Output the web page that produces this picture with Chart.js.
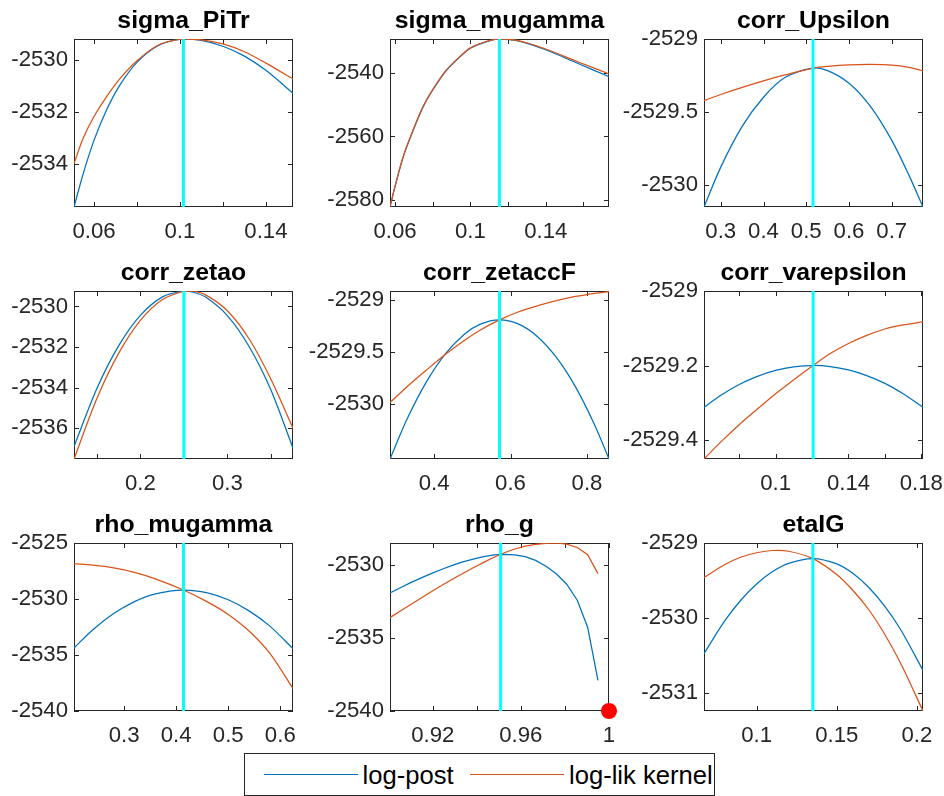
<!DOCTYPE html>
<html>
<head>
<meta charset="utf-8">
<title>Mode check plots</title>
<script src="https://cdn.jsdelivr.net/npm/chart.js@4.4.1/dist/chart.umd.min.js"></script>
<style>
  html, body { margin: 0; padding: 0; background: #ffffff; }
  #fig { position: relative; width: 944px; height: 796px; overflow: hidden; background: #ffffff;
         font-family: "Liberation Sans", Arial, Helvetica, sans-serif; }
  #fig canvas { position: absolute; }
  #legend { position: absolute; left: 244px; top: 753px; width: 471px; height: 43px;
            box-sizing: border-box; border: 1px solid #262626; background: #ffffff; }
  #legend .swatch { position: absolute; height: 0; border-top: 1.3px solid; }
  #legend .label { position: absolute; font-size: 25.6px; line-height: 25.6px; color: #000000; white-space: nowrap; }
</style>
</head>
<body>
<div id="fig"><div id="legend"></div></div>
<script>
// Profiles of the log posterior and of the log-likelihood kernel around the posterior mode,
// one panel per estimated parameter.

const paramNames = ['sigma_PiTr', 'sigma_mugamma', 'corr_Upsilon',
                    'corr_zetao', 'corr_zetaccF', 'corr_varepsilon',
                    'rho_mugamma', 'rho_g', 'etaIG'];
const seriesNames = ['log-post', 'log-lik kernel'];

const sigmaPiTrX    = [0.0507, 0.055, 0.06, 0.0659, 0.0721, 0.08, 0.09, 0.1016, 0.11, 0.12, 0.13, 0.14, 0.1526];
const sigmaPiTrPost = [-2535.67, -2534.38, -2533.10, -2531.92, -2530.96, -2530.09, -2529.44, -2529.19, -2529.24, -2529.47, -2529.85, -2530.40, -2531.28];
const sigmaPiTrLik  = [-2534.00, -2533.01, -2532.18, -2531.41, -2530.72, -2530.03, -2529.42, -2529.19, -2529.22, -2529.38, -2529.68, -2530.12, -2530.73];

const sigmaMugammaX    = [0.0573, 0.06, 0.0644, 0.0697, 0.075, 0.08, 0.0874, 0.0945, 0.10, 0.1087, 0.1154, 0.1247, 0.14, 0.1566, 0.1736];
const sigmaMugammaPost = [-2582.3, -2575.8, -2566.3, -2557.9, -2550.5, -2545.3, -2539.0, -2534.8, -2532.1, -2530.0, -2529.2, -2529.7, -2532.6, -2536.8, -2541.1];
const sigmaMugammaLik  = [-2582.2, -2575.7, -2566.2, -2557.8, -2550.4, -2545.2, -2538.9, -2534.7, -2532.0, -2529.95, -2529.2, -2529.65, -2532.35, -2536.3, -2540.2];

const corrUpsilonX    = [0.2608, 0.30, 0.35, 0.40, 0.45, 0.5157, 0.55, 0.60, 0.65, 0.70, 0.74, 0.773];
const corrUpsilonPost = [-2530.154, -2529.88, -2529.60, -2529.40, -2529.265, -2529.20, -2529.217, -2529.304, -2529.463, -2529.696, -2529.935, -2530.154];
const corrUpsilonLik  = [-2529.424, -2529.381, -2529.332, -2529.287, -2529.247, -2529.20, -2529.188, -2529.178, -2529.175, -2529.18, -2529.195, -2529.218];

const corrZetaoX    = [0.1237, 0.15, 0.175, 0.2, 0.225, 0.25, 0.26, 0.275, 0.3, 0.325, 0.35, 0.3755];
const corrZetaoPost = [-2536.90, -2534.04, -2531.94, -2530.44, -2529.54, -2529.24, -2529.29, -2529.54, -2530.45, -2531.97, -2534.10, -2536.98];
const corrZetaoLik  = [-2537.51, -2534.53, -2532.31, -2530.69, -2529.67, -2529.25, -2529.24, -2529.43, -2530.21, -2531.59, -2533.57, -2536.00];

const corrZetaccFX    = [0.2847, 0.33, 0.38, 0.43, 0.48, 0.5212, 0.5712, 0.62, 0.67, 0.72, 0.77, 0.82, 0.8576];
const corrZetaccFPost = [-2530.526, -2530.138, -2529.786, -2529.515, -2529.326, -2529.231, -2529.19, -2529.229, -2529.349, -2529.551, -2529.834, -2530.199, -2530.526];
const corrZetaccFLik  = [-2529.985, -2529.83, -2529.672, -2529.52, -2529.385, -2529.287, -2529.19, -2529.115, -2529.055, -2529.005, -2528.965, -2528.935, -2528.918];

const corrVarepsilonX    = [0.0607, 0.07, 0.08, 0.09, 0.10, 0.11, 0.1206, 0.13, 0.14, 0.15, 0.16, 0.17, 0.1809];
const corrVarepsilonPost = [-2529.312, -2529.280, -2529.251, -2529.229, -2529.213, -2529.2035, -2529.200, -2529.2027, -2529.2117, -2529.227, -2529.248, -2529.276, -2529.312];
const corrVarepsilonLik  = [-2529.451, -2529.405, -2529.359, -2529.317, -2529.276, -2529.238, -2529.200, -2529.168, -2529.141, -2529.119, -2529.102, -2529.091, -2529.083];

const rhoMugammaX    = [0.2038, 0.24, 0.28, 0.32, 0.36, 0.414, 0.46, 0.50, 0.54, 0.58, 0.6244];
const rhoMugammaPost = [-2534.37, -2532.74, -2531.30, -2530.23, -2529.54, -2529.20, -2529.45, -2530.07, -2531.06, -2532.42, -2534.43];
const rhoMugammaLik  = [-2526.85, -2526.98, -2527.22, -2527.62, -2528.20, -2529.20, -2530.26, -2531.38, -2532.86, -2534.86, -2538.00];

const rhoGX    = [0.9006, 0.9053, 0.9100, 0.9148, 0.9195, 0.9242, 0.9289, 0.9336, 0.9384, 0.9431, 0.9478,
                  0.9525, 0.9572, 0.9620, 0.9667, 0.9714, 0.9761, 0.9808, 0.9856, 0.9903, 0.9950];
const rhoGPost = [-2531.90, -2531.54, -2531.19, -2530.86, -2530.55, -2530.27, -2530.01, -2529.77, -2529.57, -2529.40, -2529.28,
                  -2529.245, -2529.28, -2529.40, -2529.66, -2530.06, -2530.58, -2531.30, -2532.40, -2534.25, -2537.90];
const rhoGLik  = [-2533.59, -2533.14, -2532.69, -2532.24, -2531.80, -2531.37, -2530.96, -2530.56, -2530.17, -2529.80, -2529.45,
                  -2529.14, -2528.88, -2528.69, -2528.56, -2528.49, -2528.47, -2528.55, -2528.78, -2529.28, -2530.57];
// upper bound of rho_g, marked at the bottom of its panel
const rhoGBoundMarker = [1, -2540];

const etaIGX    = [0.0672, 0.08, 0.09, 0.10, 0.11, 0.12, 0.1351, 0.15, 0.16, 0.17, 0.18, 0.19, 0.2038];
const etaIGPost = [-2530.475, -2530.043, -2529.767, -2529.547, -2529.381, -2529.271, -2529.208, -2529.278, -2529.404, -2529.593, -2529.845, -2530.160, -2530.698];
const etaIGLik  = [-2529.46, -2529.29, -2529.19, -2529.13, -2529.10, -2529.11, -2529.208, -2529.42, -2529.63, -2529.89, -2530.22, -2530.61, -2531.24];

// posterior mode of each parameter
const modeValues = [0.1016, 0.1154, 0.5157, 0.25, 0.5712, 0.1206, 0.414, 0.9508, 0.1351];

// axis limits
const xLimits = [[0.0507, 0.1526], [0.0573, 0.1736], [0.2608, 0.773],
                 [0.1237, 0.3755], [0.2847, 0.8576], [0.0607, 0.1809],
                 [0.2038, 0.6244], [0.9006, 1.0], [0.0672, 0.2038]];
const yLimits = [[-2535.67, -2529.19], [-2582.3, -2529.2], [-2530.154, -2529],
                 [-2537.51, -2529.24], [-2530.526, -2528.913], [-2529.451, -2529.0],
                 [-2540, -2525], [-2540, -2528.47], [-2531.24, -2529]];

// tick positions and their labels (an empty label is an unlabeled tick)
const xTickValues = [[0.06, 0.08, 0.10, 0.12, 0.14], [0.06, 0.08, 0.10, 0.12, 0.14, 0.16], [0.3, 0.4, 0.5, 0.6, 0.7],
                     [0.15, 0.2, 0.25, 0.3, 0.35], [0.4, 0.6, 0.8], [0.08, 0.10, 0.12, 0.14, 0.16, 0.18],
                     [0.3, 0.4, 0.5, 0.6], [0.92, 0.94, 0.96, 0.98, 1.0], [0.1, 0.15, 0.2]];
const xTickLabels = [['0.06', '', '0.1', '', '0.14'], ['0.06', '', '0.1', '', '0.14', ''], ['0.3', '0.4', '0.5', '0.6', '0.7'],
                     ['', '0.2', '', '0.3', ''], ['0.4', '0.6', '0.8'], ['', '0.1', '', '0.14', '', '0.18'],
                     ['0.3', '0.4', '0.5', '0.6'], ['0.92', '', '0.96', '', '1'], ['0.1', '0.15', '0.2']];
const yTickValues = [[-2534, -2532, -2530], [-2580, -2560, -2540], [-2530, -2529.5, -2529],
                     [-2536, -2534, -2532, -2530], [-2530, -2529.5, -2529], [-2529.4, -2529.2, -2529],
                     [-2540, -2535, -2530, -2525], [-2540, -2535, -2530], [-2531, -2530, -2529]];
const yTickLabels = [['-2534', '-2532', '-2530'], ['-2580', '-2560', '-2540'], ['-2530', '-2529.5', '-2529'],
                     ['-2536', '-2534', '-2532', '-2530'], ['-2530', '-2529.5', '-2529'], ['-2529.4', '-2529.2', '-2529'],
                     ['-2540', '-2535', '-2530', '-2525'], ['-2540', '-2535', '-2530'], ['-2531', '-2530', '-2529']];

// ---------------------------------------------------------------------------------------------

const gridX = [sigmaPiTrX, sigmaMugammaX, corrUpsilonX, corrZetaoX, corrZetaccFX, corrVarepsilonX, rhoMugammaX, rhoGX, etaIGX];
const postY = [sigmaPiTrPost, sigmaMugammaPost, corrUpsilonPost, corrZetaoPost, corrZetaccFPost, corrVarepsilonPost, rhoMugammaPost, rhoGPost, etaIGPost];
const likY  = [sigmaPiTrLik, sigmaMugammaLik, corrUpsilonLik, corrZetaoLik, corrZetaccFLik, corrVarepsilonLik, rhoMugammaLik, rhoGLik, etaIGLik];

const COLORS = { post: '#0072BD', lik: '#D95319', mode: '#00FFFF', bound: '#FF0000', axis: '#262626' };
const FONT = '"Liberation Sans", Arial, Helvetica, sans-serif';

// page layout of the 3 x 3 grid of axes
const COL_LEFT = [74, 390, 704];
const ROW_TOP = [39, 291, 543];
const BOX_W = 219, BOX_H = 168;
const Y_AXIS_W = 100, X_AXIS_H = 46, PAD_RIGHT = 30;
const TITLE_PAD_TOP = 4, TITLE_LINE = 30, TITLE_PAD_BOTTOM = 3;
const TITLE_H = TITLE_PAD_TOP + TITLE_LINE + TITLE_PAD_BOTTOM;
const TICK_LEN = 5;

// Box around the axes with inward tick marks on all four sides.
const axesFrame = {
  id: 'axesFrame',
  beforeDatasetsDraw(chart) {
    const { ctx, chartArea: a } = chart;
    const xs = chart.scales.x, ys = chart.scales.y;
    ctx.save();
    ctx.strokeStyle = COLORS.axis;
    ctx.lineWidth = 1;
    ctx.strokeRect(a.left + 0.5, a.top + 0.5, a.width - 1, a.height - 1);
    ctx.beginPath();
    xs.ticks.forEach(t => {
      const px = Math.round(xs.getPixelForValue(t.value)) + 0.5;
      ctx.moveTo(px, a.bottom); ctx.lineTo(px, a.bottom - TICK_LEN);
      ctx.moveTo(px, a.top); ctx.lineTo(px, a.top + TICK_LEN);
    });
    ys.ticks.forEach(t => {
      const py = Math.round(ys.getPixelForValue(t.value)) + 0.5;
      ctx.moveTo(a.left, py); ctx.lineTo(a.left + TICK_LEN, py);
      ctx.moveTo(a.right, py); ctx.lineTo(a.right - TICK_LEN, py);
    });
    ctx.stroke();
    ctx.restore();
  }
};

function toPoints(xv, yv) {
  return xv.map((x, i) => ({ x: x, y: yv[i] }));
}

function makePanel(i) {
  const fig = document.getElementById('fig');
  const col = i % 3, row = Math.floor(i / 3);
  const W = Y_AXIS_W + BOX_W + PAD_RIGHT;
  const H = TITLE_H + BOX_H + X_AXIS_H;
  const canvas = document.createElement('canvas');
  canvas.width = W; canvas.height = H;
  canvas.style.left = (COL_LEFT[col] - Y_AXIS_W) + 'px';
  canvas.style.top = (ROW_TOP[row] - TITLE_H) + 'px';
  canvas.style.width = W + 'px';
  canvas.style.height = H + 'px';
  fig.appendChild(canvas);

  // rho_g is drawn with straight segments between grid points; the others are smoothed
  const tension = paramNames[i] === 'rho_g' ? 0 : 0.3;
  const curve = (data, color, order) => ({
    data: data, borderColor: color, backgroundColor: color, borderWidth: 1.25,
    pointRadius: 0, fill: false, order: order, tension: tension
  });

  const datasets = [
    curve(toPoints(gridX[i], postY[i]), COLORS.post, 3),
    curve(toPoints(gridX[i], likY[i]), COLORS.lik, 2),
    {
      data: [{ x: modeValues[i], y: yLimits[i][0] }, { x: modeValues[i], y: yLimits[i][1] }],
      borderColor: COLORS.mode, borderWidth: 3, pointRadius: 0, fill: false, order: 1, tension: 0
    }
  ];
  if (paramNames[i] === 'rho_g') {
    datasets.push({
      data: [{ x: rhoGBoundMarker[0], y: rhoGBoundMarker[1] }],
      showLine: false, pointRadius: 8, pointBorderWidth: 0,
      pointBackgroundColor: COLORS.bound, borderColor: COLORS.bound, clip: false, order: 0
    });
  }

  const tickFont = { family: FONT, size: 22.2 };

  new Chart(canvas, {
    type: 'line',
    data: { datasets: datasets },
    plugins: [axesFrame],
    options: {
      responsive: false,
      animation: false,
      devicePixelRatio: 1,
      events: [],
      layout: { padding: { left: 0, right: PAD_RIGHT, top: 0, bottom: 0 }, autoPadding: false },
      plugins: {
        legend: { display: false },
        tooltip: { enabled: false },
        title: {
          display: true, text: paramNames[i], fullSize: false, color: '#000000',
          font: { family: FONT, size: 24.8, weight: 'bold', lineHeight: TITLE_LINE + 'px' },
          padding: { top: TITLE_PAD_TOP, bottom: TITLE_PAD_BOTTOM }
        }
      },
      scales: {
        x: {
          type: 'linear', min: xLimits[i][0], max: xLimits[i][1], bounds: 'data',
          grid: { display: false, drawTicks: false },
          border: { display: false },
          ticks: {
            autoSkip: false, maxRotation: 0, minRotation: 0, padding: 12,
            color: COLORS.axis, font: tickFont,
            callback: (v, k) => xTickLabels[i][k]
          },
          afterBuildTicks: s => { s.ticks = xTickValues[i].map(v => ({ value: v })); },
          afterFit: s => { s.height = X_AXIS_H; s.paddingLeft = 0; s.paddingRight = 0; }
        },
        y: {
          type: 'linear', min: yLimits[i][0], max: yLimits[i][1], bounds: 'data',
          grid: { display: false, drawTicks: false },
          border: { display: false },
          ticks: {
            autoSkip: false, padding: 6, color: COLORS.axis, font: tickFont,
            callback: (v, k) => yTickLabels[i][k]
          },
          afterBuildTicks: s => { s.ticks = yTickValues[i].map(v => ({ value: v })); },
          afterFit: s => { s.width = Y_AXIS_W; s.paddingTop = 0; s.paddingBottom = 0; }
        }
      }
    }
  });
}

for (let i = 0; i < paramNames.length; i++) makePanel(i);

// Shared legend below the grid
(function buildLegend() {
  const legend = document.getElementById('legend');
  const colors = [COLORS.post, COLORS.lik];
  const swatchLeft = [19, 225];
  const labelLeft = [117.5, 324];
  seriesNames.forEach((name, k) => {
    const sw = document.createElement('div');
    sw.className = 'swatch';
    sw.style.left = swatchLeft[k] + 'px';
    sw.style.width = '94px';
    sw.style.top = '20px';
    sw.style.borderTopColor = colors[k];
    legend.appendChild(sw);
    const lb = document.createElement('span');
    lb.className = 'label';
    lb.style.left = labelLeft[k] + 'px';
    lb.style.top = '8.5px';
    lb.textContent = name;
    legend.appendChild(lb);
  });
})();
</script>
</body>
</html>
